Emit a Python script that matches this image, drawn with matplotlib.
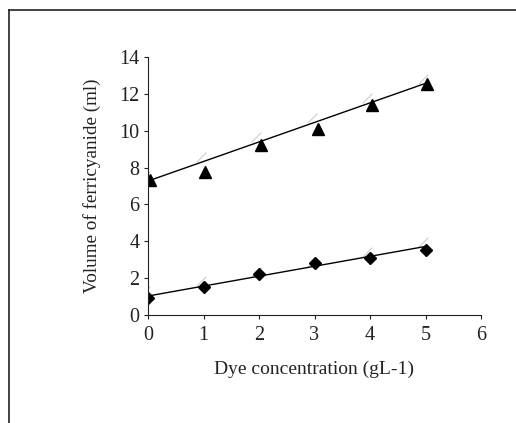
import numpy as np
import matplotlib.pyplot as plt
from matplotlib.lines import Line2D

# valores
conc = [0, 1, 2, 3, 4, 5]
x_tri = [0.03, 1.03, 2.03, 3.07, 4.03, 5.03]
vol_tri = [7.32, 7.78, 9.22, 10.09, 11.38, 12.52]
vol_dia = [0.94, 1.5, 2.22, 2.8, 3.11, 3.53]
# linhas de tendência (valores em x=0 e x=5)
fit_x = [0, 5]
fit_tri = [7.27, 12.57]
fit_dia = [1.03, 3.72]

plt.rcParams['font.family'] = ['Liberation Serif', 'DejaVu Serif']

fig = plt.figure(figsize=(5.16, 4.23), dpi=100)

# moldura (só esquerda e topo aparecem)
fig.add_artist(Line2D([8.5 / 516, 8.5 / 516], [0, 1 - 10.5 / 423], color='#222222', lw=1.2, transform=fig.transFigure))
fig.add_artist(Line2D([8.5 / 516, 1], [1 - 10.5 / 423, 1 - 10.5 / 423], color='#222222', lw=1.2, transform=fig.transFigure))

ax = fig.add_axes([148 / 516, (423 - 315) / 423, (481 - 148) / 516, (315 - 57) / 423])

# riscos cinza claros nas linhas
slash = [(-1, -1), (1, 1)]
for xs, ys in [(fit_x, fit_tri), (fit_x, fit_dia)]:
    xx = np.array(conc)
    yy = np.interp(xx, xs, ys)
    ax.plot(xx - 0.05, yy + 0.25, linestyle='none', marker=slash, markersize=7,
            markeredgecolor='#cccccc', markeredgewidth=0.8)

ax.plot(fit_x, fit_tri, color='black', lw=1)
ax.plot(fit_x, fit_dia, color='black', lw=1)
ax.plot(x_tri, vol_tri, linestyle='none', marker='^', color='black', markersize=9)
ax.plot(conc, vol_dia, linestyle='none', marker='D', color='black', markersize=6)

ax.set_xlim(0, 6)
ax.set_ylim(0, 14)
ax.set_xticks(range(0, 7))
ax.set_yticks(range(0, 15, 2))
ax.spines['top'].set_visible(False)
ax.spines['right'].set_visible(False)
ax.spines['left'].set_color('#222222')
ax.spines['bottom'].set_color('#222222')
ax.tick_params(labelsize=14.5, direction='out', length=3, colors='#222222')
ax.tick_params(axis='x', pad=5)
ax.tick_params(axis='y', pad=3)
ax.set_xlabel('Dye concentration (gL-1)', fontsize=14, labelpad=11, color='#222222')
ax.set_ylabel('Volume of ferricyanide (ml)', fontsize=13.8, labelpad=13, color='#222222')

fig.savefig('out.png', dpi=100)
